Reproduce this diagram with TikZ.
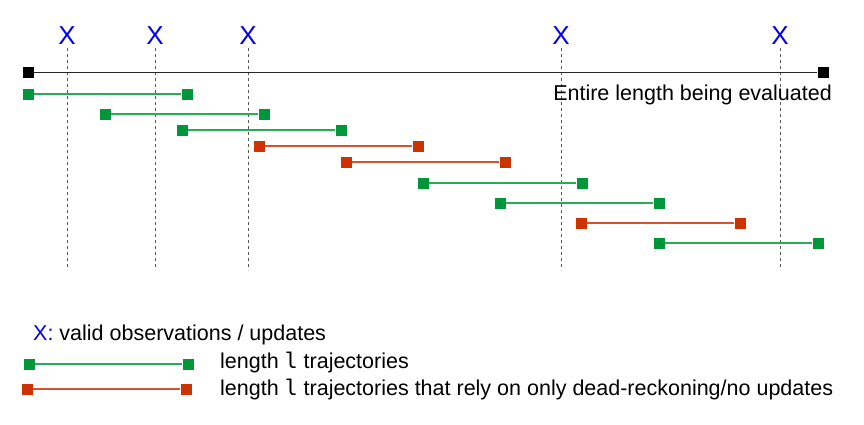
\documentclass[tikz,border=0pt]{standalone}
\usepackage{fontspec}
\setmainfont{Liberation Sans}
\newfontfamily\monof{DejaVu Sans Mono}
\definecolor{tgreen}{RGB}{0,150,57}
\definecolor{tgreenline}{RGB}{40,170,90}
\definecolor{tred}{RGB}{204,51,0}
\definecolor{tredline}{RGB}{210,85,50}
\definecolor{xblue}{RGB}{0,0,240}
\begin{document}
\begin{tikzpicture}[x=1pt,y=-1pt,
  sq/.style={rectangle,minimum size=11pt,inner sep=0pt,draw=none},
  gsq/.style={sq,fill=tgreen},
  rsq/.style={sq,fill=tred},
  bsq/.style={sq,fill=black},
  gline/.style={draw=tgreenline,line width=1.1pt},
  rline/.style={draw=tredline,line width=1.1pt},
  xlab/.style={text=xblue,font=\fontsize{26}{28}\selectfont,inner sep=0pt,anchor=base},
  txt/.style={font=\fontsize{21.5}{24}\selectfont,inner sep=0pt},
  obs/.style={draw=black!65,line width=1pt,dash pattern=on 3pt off 3pt}]
\useasboundingbox (0,0) rectangle (864,424);
% observation markers
\foreach \n/\x in {a/67,b/155,c/248,d/561,e/780}{
  \node[xlab] (x\n) at (\x,44) {X};
  \coordinate (t\n) at (\x,48);
  \coordinate (u\n) at (\x,270);
  \draw[obs] (t\n) -- (u\n);
}
% entire length
\node[bsq] (m1) at (28,72) {};
\node[bsq] (m2) at (823,72) {};
\draw[black!85,line width=1pt] (m1) -- (m2);
\node[txt,anchor=base east] (ent) at (832,100) {Entire length being evaluated};
% trajectories
\foreach \i/\y/\xa/\c in {1/94/28/g,2/114/105/g,3/130/182/g,4/146/259/r,5/162/346/r,6/183/423/g,7/203/500/g,8/223/581/r,9/243/659/g}{
  \node[\c sq] (p\i) at (\xa,\y) {};
  \node[\c sq] (q\i) at (\xa+159,\y) {};
  \draw[\c line] (p\i) -- (q\i);
}
% legend
\node[txt,anchor=base west] (l1) at (33,340) {\textcolor{xblue}{X:} valid observations / updates};
\node[gsq] (lg1) at (29,364) {};
\node[gsq] (lg2) at (188,364) {};
\draw[gline] (lg1) -- (lg2);
\node[txt,anchor=base west] (l2) at (220,368) {length {\monof l} trajectories};
\node[rsq] (lr1) at (27,389) {};
\node[rsq] (lr2) at (186,389) {};
\draw[rline] (lr1) -- (lr2);
\node[txt,anchor=base west] (l3) at (220,395) {length {\monof l} trajectories that rely on only dead-reckoning/no updates};
\end{tikzpicture}
\end{document}
